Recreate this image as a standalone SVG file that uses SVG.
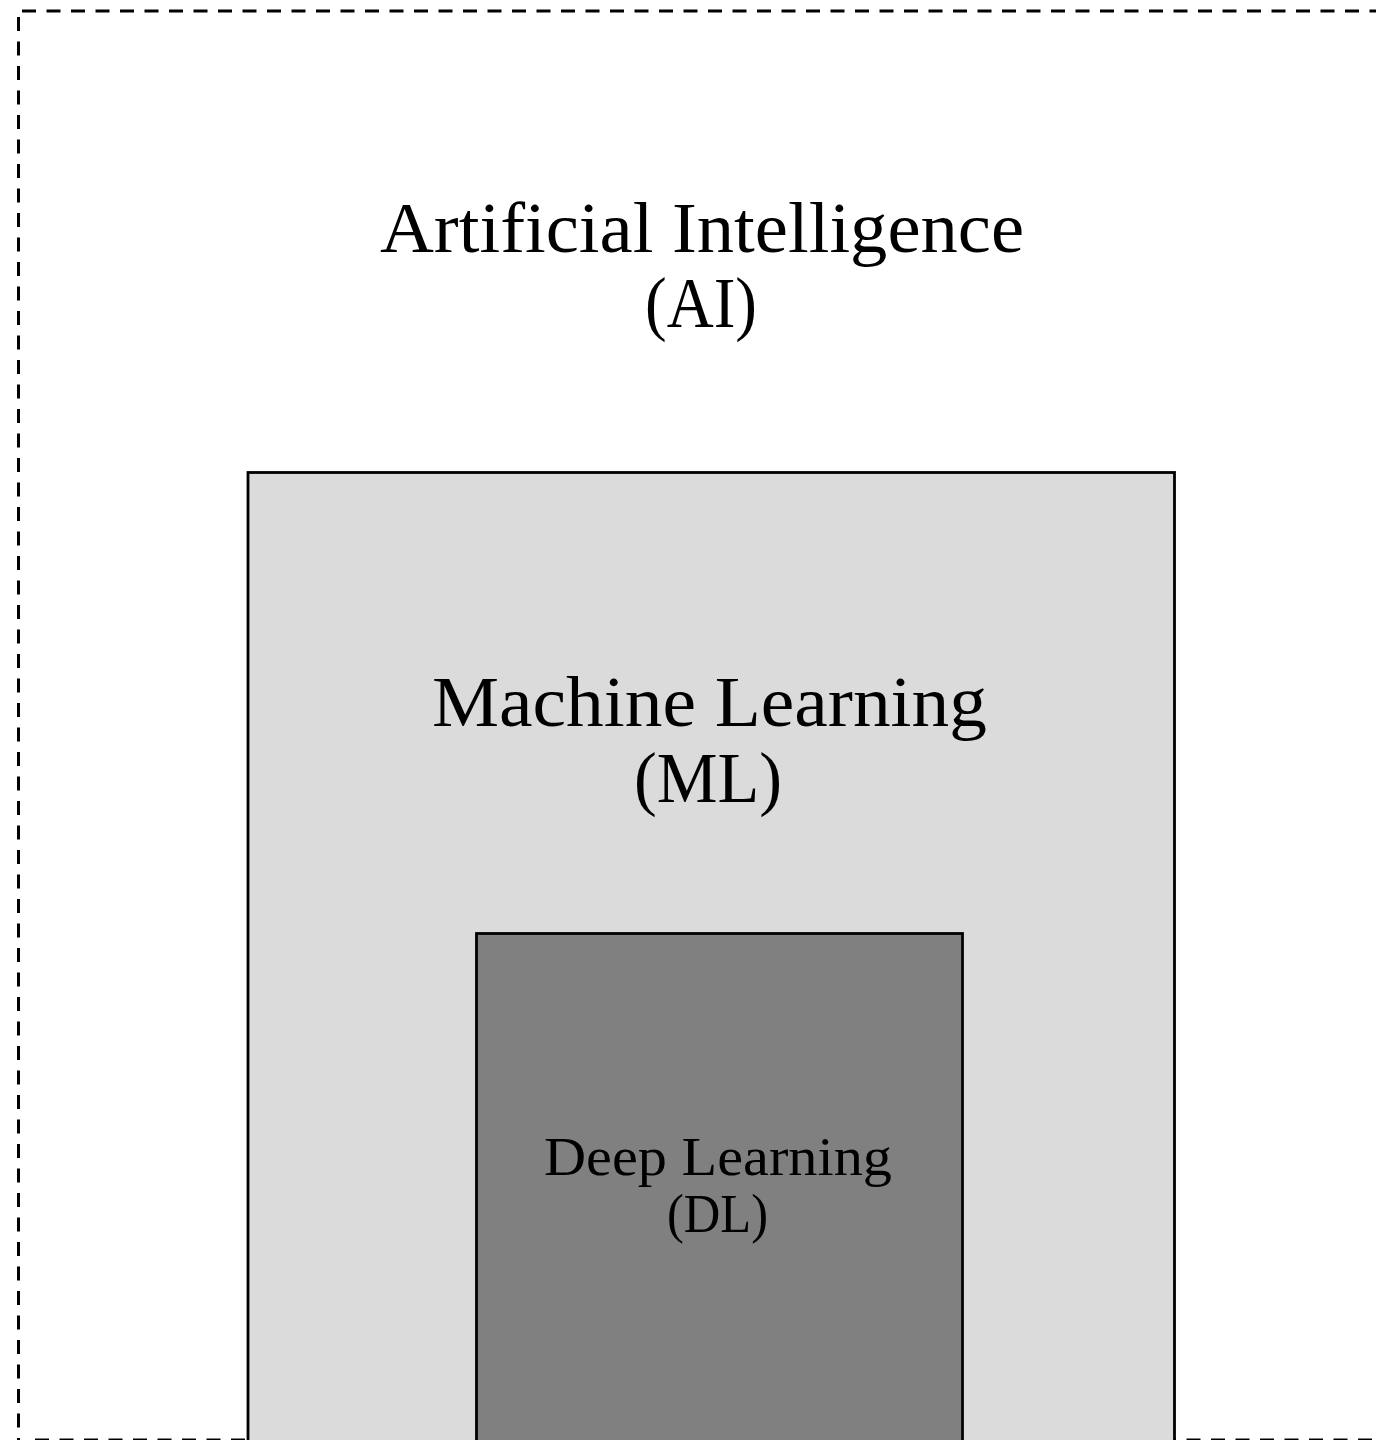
<svg xmlns="http://www.w3.org/2000/svg" width="1376" height="1440" viewBox="0 0 1376 1440">
  <style>
    .label { font-family: "Liberation Serif", "DejaVu Serif", serif; fill: #000; text-anchor: middle; }
    .big { font-size: 72px; }
    .small { font-size: 55px; }
    .box { stroke: #000; stroke-width: 2.8; }
    .scope { fill: none; stroke: #000; stroke-width: 3; stroke-dasharray: 14 10.5; }
  </style>
  <rect width="1376" height="1440" fill="#ffffff"/>

  <!-- Outermost scope: Artificial Intelligence -->
  <g id="ai">
    <line class="scope" x1="22" y1="11" x2="1390" y2="11"/>
    <line class="scope" x1="18.5" y1="17" x2="18.5" y2="1440"/>
    <line class="scope" x1="35" y1="1440" x2="1390" y2="1440"/>
    <text class="label big" x="702" y="252" textLength="644" lengthAdjust="spacingAndGlyphs">Artificial Intelligence</text>
    <text class="label big" x="701" y="327" textLength="112" lengthAdjust="spacingAndGlyphs">(AI)</text>
  </g>

  <!-- Machine Learning, nested in AI -->
  <g id="ml">
    <rect class="box" x="248" y="472.5" width="926.5" height="980" fill="#dbdbdb"/>
    <text class="label big" x="709.5" y="726" textLength="555" lengthAdjust="spacingAndGlyphs">Machine Learning</text>
    <text class="label big" x="708" y="802" textLength="148" lengthAdjust="spacingAndGlyphs">(ML)</text>
  </g>

  <!-- Deep Learning, nested in ML -->
  <g id="dl">
    <rect class="box" x="476.5" y="933.5" width="486" height="520" fill="#808080"/>
    <text class="label small" x="718" y="1175" textLength="348" lengthAdjust="spacingAndGlyphs">Deep Learning</text>
    <text class="label small" x="717.5" y="1232" textLength="101" lengthAdjust="spacingAndGlyphs">(DL)</text>
  </g>

  <g id="connectors"/>
</svg>
